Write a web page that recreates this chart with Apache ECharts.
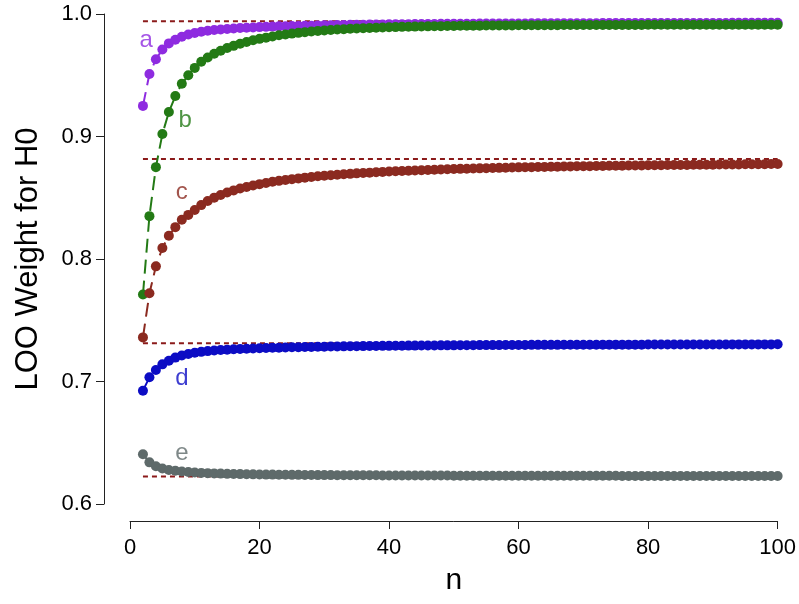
<!DOCTYPE html>
<html>
<head>
<meta charset="utf-8">
<script src="https://cdn.jsdelivr.net/npm/echarts@6/dist/echarts.min.js"></script>
<style>
  html, body { margin: 0; padding: 0; background: #fff; }
  #main { width: 799px; height: 604px; }
</style>
</head>
<body>
<div id="main"></div>
<script>
// sample sizes n
var nValues = [2,3,4,5,6,7,8,9,10,11,12,13,14,15,16,17,18,19,20,21,22,23,24,25,26,27,28,29,30,
  31,32,33,34,35,36,37,38,39,40,41,42,43,44,45,46,47,48,49,50,51,52,53,54,55,56,57,58,59,60,
  61,62,63,64,65,66,67,68,69,70,71,72,73,74,75,76,77,78,79,80,81,82,83,84,85,86,87,88,89,90,
  91,92,93,94,95,96,97,98,99,100];

// LOO weight for H0, one value per n
var seriesA = [.925,.951,.963,.971,.976,.979,.9815,.9832,.9845,.9855,.9863,.9869,.9874,.9878,.9882,.9885,.9888,.989,.9893,
  .9895,.9897,.9899,.99,.9902,.9903,.9904,.9905,.9907,.9908,
  .9909,.991,.9911,.9912,.9912,.9913,.9914,.9915,.9915,.9916,
  .9916,.9917,.9917,.9918,.9918,.9919,.9919,.992,.992,.992,
  .9921,.9921,.9921,.9922,.9922,.9922,.9922,.9923,.9923,.9923,
  .9923,.9924,.9924,.9924,.9924,.9924,.9925,.9925,.9925,.9925,
  .9925,.9925,.9926,.9926,.9926,.9926,.9926,.9926,.9926,.9927,
  .9927,.9927,.9927,.9927,.9927,.9927,.9927,.9927,.9927,.9927,
  .9927,.9927,.9928,.9928,.9928,.9928,.9928,.9928,.9928,.9928];

var seriesB = [.771,.835,.875,.902,.920,.933,.943,.950,.956,.961,.9645,.9675,.970,.9722,.974,.9757,.9772,.9785,.9797,
  .9807,.9817,.9826,.9833,.984,.9846,.9852,.9857,.9862,.9866,
  .987,.9873,.9876,.9879,.9882,.9884,.9886,.9888,.989,.9892,
  .9893,.9895,.9896,.9897,.9898,.9899,.99,.9901,.9902,.9903,
  .9904,.9904,.9905,.9905,.9906,.9906,.9907,.9907,.9907,.9908,
  .9908,.9908,.9909,.9909,.9909,.9909,.991,.991,.991,.991,
  .991,.991,.9911,.9911,.9911,.9911,.9911,.9911,.9911,.9912,
  .9912,.9912,.9912,.9912,.9912,.9912,.9912,.9912,.9912,.9912,
  .9912,.9912,.9912,.9913,.9913,.9913,.9913,.9913,.9913,.9913];

var seriesC = [.736,.772,.794,.809,.819,.826,.832,.836,.840,.844,.8474,.8501,.8523,.8543,.856,.8575,.8588,.86,.8611,
  .8621,.863,.8638,.8645,.8652,.8658,.8664,.867,.8675,.8679,
  .8684,.8688,.8692,.8695,.8699,.8702,.8705,.8708,.8711,.8714,
  .8716,.8718,.8721,.8723,.8725,.8727,.8729,.8731,.8732,.8734,
  .8736,.8737,.8739,.874,.8741,.8743,.8744,.8745,.8747,.8748,
  .8749,.875,.8751,.8752,.8753,.8754,.8755,.8756,.8757,.8757,
  .8758,.8759,.876,.8761,.8761,.8762,.8763,.8763,.8764,.8765,
  .8765,.8766,.8767,.8767,.8768,.8768,.8769,.8769,.877,.877,
  .8771,.8771,.8772,.8772,.8773,.8773,.8774,.8774,.8775,.8775];

var seriesD = [.6925,.7034,.7094,.714,.717,.7195,.7212,.7225,.7235,.7242,.7248,.7253,.7257,.726,.7263,.7265,.7267,.7269,.7271,
  .7273,.7275,.7276,.7278,.7279,.728,.7281,.7282,.7283,.7284,
  .7285,.7286,.7287,.7288,.7288,.7289,.729,.729,.7291,.7291,
  .7292,.7292,.7293,.7293,.7294,.7294,.7294,.7295,.7295,.7295,
  .7296,.7296,.7296,.7297,.7297,.7297,.7297,.7298,.7298,.7298,
  .7298,.7299,.7299,.7299,.7299,.7299,.73,.73,.73,.73,
  .73,.73,.7301,.7301,.7301,.7301,.7301,.7301,.7301,.7302,
  .7302,.7302,.7302,.7302,.7302,.7302,.7302,.7302,.7302,.7302,
  .7302,.7302,.7303,.7303,.7303,.7303,.7303,.7303,.7303,.7304];

var seriesE = [.6406,.634,.6308,.629,.6278,.6271,.6265,.6261,.6257,.6254,.6252,.625,.6248,.6246,.6245,.6244,.6243,.6242,.6241,
  .624,.624,.6239,.6239,.6238,.6238,.6237,.6237,.6236,.6236,
  .6236,.6235,.6235,.6235,.6234,.6234,.6234,.6234,.6233,.6233,
  .6233,.6233,.6233,.6232,.6232,.6232,.6232,.6232,.6232,.6231,
  .6231,.6231,.6231,.6231,.6231,.6231,.6231,.6231,.6231,.6231,
  .623,.623,.623,.623,.623,.623,.623,.623,.623,.623,
  .623,.623,.623,.623,.623,.6229,.6229,.6229,.6229,.6229,
  .6229,.6229,.6229,.6229,.6229,.6229,.6229,.6229,.6229,.6229,
  .6229,.6229,.6229,.6229,.6229,.6229,.6229,.6229,.6229,.6229];

// limiting values (dotted reference lines)
var limits = [0.994, 0.8816, 0.7312, 0.6225];

var seriesNames = ['a', 'b', 'c', 'd', 'e'];
var seriesColors = ['#8E2BE0', '#237A15', '#8B2A20', '#0C0CC4', '#5E6A6A'];
var labelX = [2.5, 8.5, 8.0, 8.0, 8.0];
var labelY = [0.9788, 0.9129, 0.8541, 0.7029, 0.6414];

var allSeries = [seriesA, seriesB, seriesC, seriesD, seriesE];
var FONT = 'Liberation Sans, Arial, Helvetica, sans-serif';

var chart = echarts.init(document.getElementById('main'));

var series = [];
limits.forEach(function (v) {
  series.push({
    type: 'line',
    data: [[2, v], [100, v]],
    showSymbol: false,
    silent: true,
    z: 1,
    lineStyle: { color: '#8B1A1A', width: 2, type: [5, 4] }
  });
});
allSeries.forEach(function (vals, k) {
  series.push({
    name: seriesNames[k],
    type: 'line',
    data: nValues.map(function (n, i) { return [n, vals[i]]; }),
    symbol: 'circle',
    symbolSize: 10,
    showAllSymbol: true,
    z: 3,
    itemStyle: { color: seriesColors[k] },
    lineStyle: { color: seriesColors[k], width: 2, type: [14, 7] }
  });
});
// letters next to the curves
series.push({
  type: 'scatter',
  symbolSize: 0,
  z: 5,
  silent: true,
  data: seriesNames.map(function (s, k) {
    return {
      value: [labelX[k], labelY[k]],
      name: s,
      label: { color: seriesColors[k] }
    };
  }),
  label: {
    show: true,
    position: 'inside',
    formatter: '{b}',
    fontSize: 24,
    fontFamily: FONT
  }
});

chart.setOption({
  animation: false,
  backgroundColor: '#fff',
  grid: { left: 130, right: 20, top: 14, bottom: 100 },
  xAxis: {
    type: 'value',
    min: 0, max: 100, interval: 20,
    offset: 17,
    name: 'n',
    nameLocation: 'middle',
    nameGap: 45,
    nameTextStyle: { fontSize: 30, color: '#000', fontFamily: FONT },
    splitLine: { show: false },
    axisLine: { onZero: false, lineStyle: { color: '#222', width: 1 } },
    axisTick: { length: 8, lineStyle: { color: '#222' } },
    axisLabel: { fontSize: 22, color: '#000', margin: 16, fontFamily: FONT }
  },
  yAxis: {
    type: 'value',
    min: 0.6, max: 1.0, interval: 0.1,
    offset: 26,
    name: 'LOO Weight for H0',
    nameLocation: 'middle',
    nameGap: 60,
    nameTextStyle: { fontSize: 31, color: '#000', fontFamily: FONT },
    splitLine: { show: false },
    axisLine: { show: true, onZero: false, lineStyle: { color: '#222', width: 1 } },
    axisTick: { show: true, length: 8, lineStyle: { color: '#222' } },
    axisLabel: {
      fontSize: 22, color: '#000', margin: 12, fontFamily: FONT,
      formatter: function (v) { return v.toFixed(1); }
    }
  },
  series: series
});
</script>
</body>
</html>
